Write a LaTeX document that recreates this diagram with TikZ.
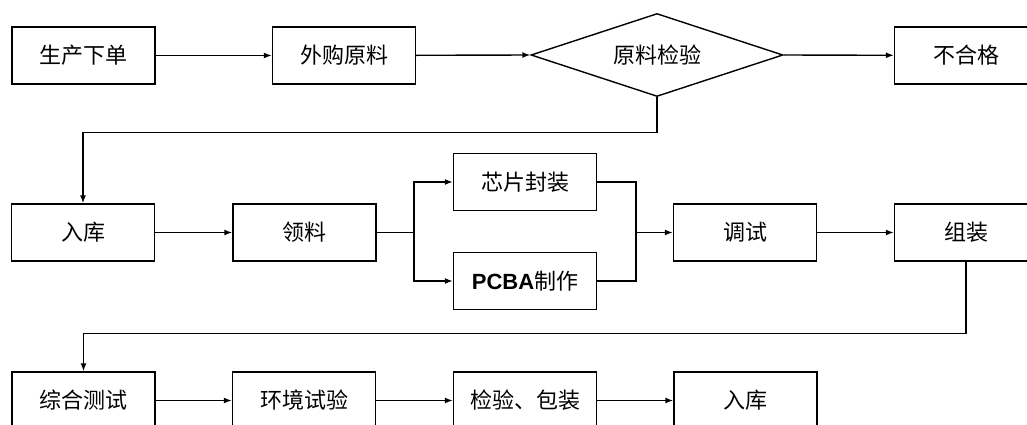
\documentclass[tikz,border=0pt]{standalone}
\usepackage{fontspec}
\newfontfamily\cjk{Noto Sans CJK SC}
\newfontfamily\arial{Liberation Sans}
\usetikzlibrary{arrows.meta}
\usetikzlibrary{shapes.geometric}

\begin{document}
\begin{tikzpicture}[x=1pt,y=-1pt,
    box/.style={draw,line width=1.4pt,minimum width=143pt,minimum height=57pt,
      inner sep=0pt,font=\cjk\fontsize{22}{26}\selectfont},
    check/.style={draw,diamond,line width=1.4pt,minimum width=252pt,minimum height=83pt,
      aspect=3,inner sep=0pt,font=\cjk\fontsize{22}{26}\selectfont},
    flow/.style={line width=1.4pt,-{Latex[length=8pt,width=6pt]}},
    wire/.style={line width=1.4pt}]
  \clip (0,0) rectangle (1027,425);

  % first row
  \node[box] (order) at (83.5,55.5) {生产下单};
  \node[box] (buy) at (344,55.5) {外购原料};
  \node[check] (inspect) at (657,55) {原料检验};
  \node[box] (reject) at (966,55.5) {不合格};

  % second row
  \node[box] (stock) at (83,232.5) {入库};
  \node[box] (pick) at (304.5,232.5) {领料};
  \node[box] (chip) at (525,182) {芯片封装};
  \node[box] (pcba) at (525,281) {{\arial\bfseries PCBA}制作};
  \node[box] (debug) at (745,232.5) {调试};
  \node[box] (assemble) at (966,232.5) {组装};
  \coordinate (split) at (414,232.5);
  \coordinate (join) at (636,232.5);

  % third row
  \node[box] (test) at (83.5,400.5) {综合测试};
  \node[box] (env) at (304,400.5) {环境试验};
  \node[box] (pack) at (525,400.5) {检验、包装};
  \node[box] (store) at (745.5,400.5) {入库};

  \draw[flow] (order) -- (buy);
  \draw[flow] (buy) -- (inspect.west);
  \draw[flow] (inspect.east) -- (reject);
  \draw[flow] (inspect.south) -- ++(0,35) -| (stock.north);

  \draw[flow] (stock) -- (pick);
  \draw[wire] (pick.east) -- (split);
  \draw[flow] (split) |- (chip.west);
  \draw[flow] (split) |- (pcba.west);
  \draw[wire] (chip.east) -| (join);
  \draw[wire] (pcba.east) -| (join);
  \draw[flow] (join) -- (debug);
  \draw[flow] (debug) -- (assemble);
  \draw[flow] (assemble.south) -- ++(0,72) -| (test.north);

  \draw[flow] (test) -- (env);
  \draw[flow] (env) -- (pack);
  \draw[flow] (pack) -- (store);
\end{tikzpicture}
\end{document}
